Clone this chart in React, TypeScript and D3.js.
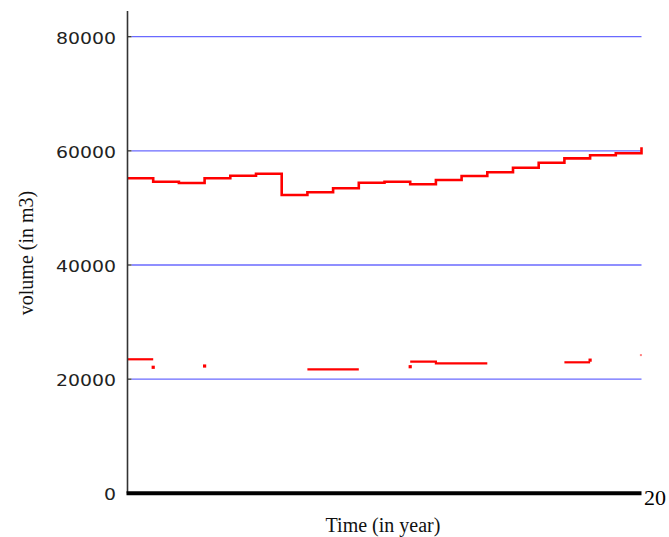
import * as React from "react"
import * as d3 from "d3"

// time axis, one step per year
const years = [0, 1, 2, 3, 4, 5, 6, 7, 8, 9, 10, 11, 12, 13, 14, 15, 16, 17, 18, 19, 20]

// upper volume curve, value held from year i to i+1 (last one is the end point at year 20)
const upperVolume = [
    55190, 54590, 54370, 55190, 55650, 56000, 52260, 52740, 53440, 54420,
    54590, 54140, 54890, 55590, 56240, 57050, 57920, 58690, 59220, 59570, 60620,
]

// lower volume curve, broken (null = nothing drawn for that year)
const lowerVolume = [
    23480, null, null, null, null, null, null, 21730, 21730, null,
    null, 23060, 22780, 22780, null, null, null, 22950, null, null,
]

// isolated points of the lower curve
const lowerDotYears = [1, 3, 11, 18, 20]
const lowerDotValues = [22080, 22300, 22180, 23330, 24110]

const yTicks = [0, 20000, 40000, 60000, 80000]
const yTickLabels = ["0", "20000", "40000", "60000", "80000"]

export default function App() {
    const width = 669
    const height = 537

    const x = d3.scaleLinear().domain([0, 20]).range([127.5, 641.5])
    const y = d3.scaleLinear().domain([0, 80000]).range([493.3, 36.7])

    const stepLine = d3
        .line<{ t: number; v: number }>()
        .x((d) => x(d.t))
        .y((d) => y(d.v))
        .curve(d3.curveStepAfter)

    const upperPoints = upperVolume.map((v, i) => ({ t: years[i], v }))

    // split the lower curve into runs of consecutive years
    const runs: { t: number; v: number }[][] = []
    let current: { t: number; v: number }[] | null = null
    lowerVolume.forEach((v, i) => {
        if (v == null) {
            current = null
            return
        }
        if (!current) {
            current = []
            runs.push(current)
        }
        current.push({ t: years[i], v })
    })
    const lowerPaths = runs.map((run) => {
        const last = run[run.length - 1]
        return stepLine([...run, { t: last.t + 1, v: last.v }])
    })

    const serif = "'Liberation Serif', 'Times New Roman', serif"
    const sans = "'DejaVu Sans', sans-serif"

    return (
        <svg
            width={width}
            height={height}
            style={{ position: "absolute", left: 0, top: 0, background: "#fff" }}
        >
            {/* grid lines */}
            {yTicks.slice(1).map((t) => (
                <line key={t} x1={131.5} x2={x(20)} y1={y(t)} y2={y(t)} stroke="#6a6aff" strokeWidth={1.3} />
            ))}
            {/* tick marks + labels */}
            {yTicks.map((t, i) => (
                <g key={"t" + t}>
                    <line x1={127.5} x2={131.5} y1={y(t)} y2={y(t)} stroke="#333" strokeWidth={1.3} />
                    <text
                        x={116}
                        y={y(t) + 7}
                        textAnchor="end"
                        fontFamily={sans}
                        fontSize={15}
                        fill="#222"
                        textLength={yTickLabels[i].length * 12}
                        lengthAdjust="spacingAndGlyphs"
                    >
                        {yTickLabels[i]}
                    </text>
                </g>
            ))}

            {/* series */}
            <path d={stepLine(upperPoints) || ""} fill="none" stroke="#ff0000" strokeWidth={2.6} />
            {lowerPaths.map((p, i) => (
                <path key={i} d={p || ""} fill="none" stroke="#ff0000" strokeWidth={2.2} />
            ))}
            {lowerDotYears.map((t, i) => (
                <rect
                    key={"d" + i}
                    x={x(t) - 1.6}
                    y={y(lowerDotValues[i]) - 1.6}
                    width={i === lowerDotYears.length - 1 ? 2 : 3.2}
                    height={i === lowerDotYears.length - 1 ? 2 : 3.2}
                    fill={i === lowerDotYears.length - 1 ? "#ff8080" : "#ff0000"}
                />
            ))}

            {/* axes */}
            <line x1={127.5} x2={127.5} y1={11} y2={493.3} stroke="#333" strokeWidth={1.6} />
            <line x1={126.5} x2={x(20)} y1={493.3} y2={493.3} stroke="#000" strokeWidth={4} />
            <text x={644} y={505} fontFamily={serif} fontSize={22} fill="#000">
                20
            </text>

            {/* axis titles */}
            <text x={383} y={532} textAnchor="middle" fontFamily={serif} fontSize={20} fill="#111">
                Time (in year)
            </text>
            <text
                transform="translate(33,253) rotate(-90)"
                textAnchor="middle"
                fontFamily={serif}
                fontSize={20}
                fill="#111"
            >
                volume (in m3)
            </text>
        </svg>
    )
}
